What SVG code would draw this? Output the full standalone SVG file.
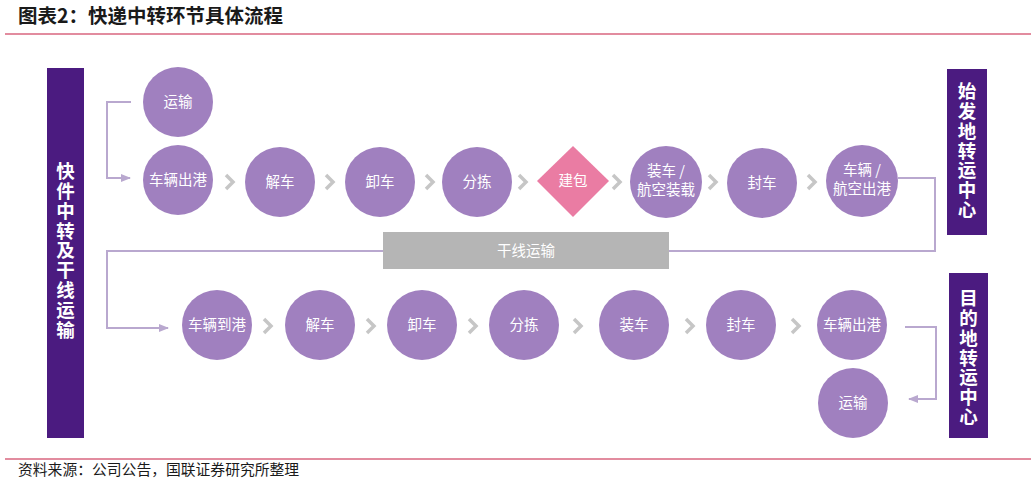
<svg xmlns="http://www.w3.org/2000/svg" width="1031" height="483" viewBox="0 0 1031 483">
<style>
.t{font-family:"Noto Sans CJK SC","Noto Sans",sans-serif}
.c{fill:#a080bf}
.lbl{font-family:"Noto Sans CJK SC","Noto Sans",sans-serif;font-size:14.5px;fill:#ffffff;text-anchor:middle}
.bar{fill:#4b1b80}
.bt{font-family:"Noto Sans CJK SC","Noto Sans",sans-serif;font-size:18.5px;font-weight:bold;fill:#ffffff;writing-mode:vertical-rl;letter-spacing:1.3px}
.chev{fill:none;stroke:#c6c6c6;stroke-width:3.5;stroke-linecap:butt;stroke-linejoin:miter}
.conn{fill:none;stroke:#b9a8cf;stroke-width:2}
</style>
<defs>
<marker id="ah" viewBox="0 0 10 10" refX="9" refY="5" markerWidth="5" markerHeight="5" orient="auto">
<path d="M0,1 L10,5 L0,9 Z" fill="#b9a8cf"/>
</marker>
<g id="chevron"><polyline class="chev" points="-4,-7 3,0 -4,7"/></g>
</defs>
<rect width="1031" height="483" fill="#ffffff"/>
<text class="t" x="18" y="23" font-size="19.5" font-weight="bold" fill="#1a1a1a">图表2：快递中转环节具体流程</text>
<line x1="5" y1="34" x2="1031" y2="34" stroke="#d9667f" stroke-width="1.5"/>
<line x1="5" y1="459" x2="1031" y2="459" stroke="#d9667f" stroke-width="1.5"/>
<text class="t" x="18" y="475" font-size="14.8" fill="#1a1a1a">资料来源：公司公告，国联证券研究所整理</text>

<g id="connectors">
<path class="conn" d="M131,102 H107 V178 H130" marker-end="url(#ah)"/>
<path class="conn" d="M898,178 H935 V251 H107 V328 H168" marker-end="url(#ah)"/>
<path class="conn" d="M905,327 H936 V399 H909" marker-end="url(#ah)"/>
<use href="#chevron" x="230" y="182"/>
<use href="#chevron" x="330" y="182"/>
<use href="#chevron" x="430" y="182"/>
<use href="#chevron" x="523" y="182"/>
<use href="#chevron" x="617" y="182"/>
<use href="#chevron" x="713" y="182"/>
<use href="#chevron" x="812" y="182"/>
<use href="#chevron" x="268" y="326"/>
<use href="#chevron" x="371" y="326"/>
<use href="#chevron" x="473" y="326"/>
<use href="#chevron" x="578" y="326"/>
<use href="#chevron" x="690" y="326"/>
<use href="#chevron" x="796" y="326"/>
</g>

<g id="bar-left"><rect class="bar" x="47" y="68" width="37" height="370"/>
<text class="bt" x="65.5" y="162">快件中转及干线运输</text></g>
<g id="bar-origin"><rect class="bar" x="947" y="69" width="40" height="166"/>
<text class="bt" x="967" y="82">始发地转运中心</text></g>
<g id="bar-dest"><rect class="bar" x="949" y="273" width="39" height="165"/>
<text class="bt" x="968.5" y="289">目的地转运中心</text></g>

<g id="n-top-transport"><circle class="c" cx="178" cy="102" r="35"/><text class="lbl" x="178" y="107">运输</text></g>
<g id="n-t1"><circle class="c" cx="178" cy="180" r="35"/><text class="lbl" x="178" y="185">车辆出港</text></g>
<g id="n-t2"><circle class="c" cx="280" cy="182" r="35"/><text class="lbl" x="280" y="187">解车</text></g>
<g id="n-t3"><circle class="c" cx="380" cy="182" r="35"/><text class="lbl" x="380" y="187">卸车</text></g>
<g id="n-t4"><circle class="c" cx="477" cy="182" r="35"/><text class="lbl" x="477" y="187">分拣</text></g>
<g id="n-t5"><polygon points="573,146 609,181 573,217 537,181" fill="#ea7ca3"/><text class="lbl" x="573" y="186">建包</text></g>
<g id="n-t6"><circle class="c" cx="666" cy="182" r="36"/><text class="lbl"><tspan x="666" y="176">装车 /</tspan><tspan x="666" y="195">航空装载</tspan></text></g>
<g id="n-t7"><circle class="c" cx="762" cy="183" r="35"/><text class="lbl" x="762" y="188">封车</text></g>
<g id="n-t8"><circle class="c" cx="862" cy="181" r="36"/><text class="lbl"><tspan x="862" y="175">车辆 /</tspan><tspan x="862" y="194">航空出港</tspan></text></g>

<g id="n-trunk"><rect x="383" y="232" width="286" height="37" fill="#b5b5b5"/><text class="lbl" x="526" y="256">干线运输</text></g>

<g id="n-b1"><circle class="c" cx="217" cy="325" r="35"/><text class="lbl" x="217" y="330">车辆到港</text></g>
<g id="n-b2"><circle class="c" cx="320" cy="325" r="35"/><text class="lbl" x="320" y="330">解车</text></g>
<g id="n-b3"><circle class="c" cx="422" cy="325" r="35"/><text class="lbl" x="422" y="330">卸车</text></g>
<g id="n-b4"><circle class="c" cx="524" cy="325" r="35"/><text class="lbl" x="524" y="330">分拣</text></g>
<g id="n-b5"><circle class="c" cx="634" cy="325" r="35"/><text class="lbl" x="634" y="330">装车</text></g>
<g id="n-b6"><circle class="c" cx="741" cy="325" r="35"/><text class="lbl" x="741" y="330">封车</text></g>
<g id="n-b7"><circle class="c" cx="852" cy="325" r="35"/><text class="lbl" x="852" y="330">车辆出港</text></g>
<g id="n-b8"><circle class="c" cx="853" cy="403" r="35"/><text class="lbl" x="853" y="408">运输</text></g>
</svg>
